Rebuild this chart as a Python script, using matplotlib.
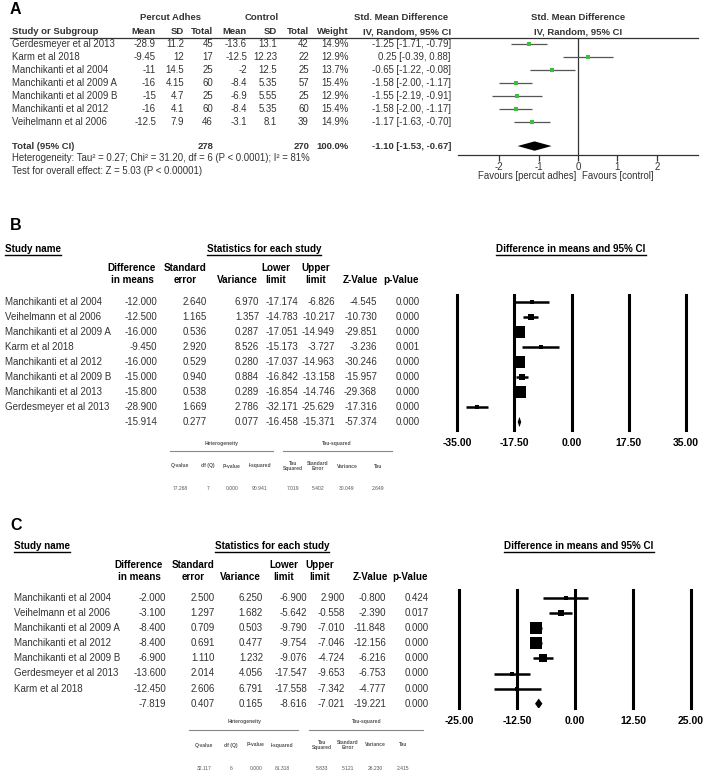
import numpy as np
import matplotlib
matplotlib.use('Agg')
import matplotlib.pyplot as plt

plt.rcParams['font.family'] = ['Liberation Sans', 'DejaVu Sans']
plt.rcParams['axes.unicode_minus'] = False

W, H = 710, 774

# panel A (RevMan style)
a_study = ['Gerdesmeyer et al 2013', 'Karm et al 2018', 'Manchikanti et al 2004',
           'Manchikanti et al 2009 A', 'Manchikanti et al 2009 B',
           'Manchikanti et al 2012', 'Veihelmann et al 2006']
a_exp_mean = [-28.9, -9.45, -11, -16, -15, -16, -12.5]
a_exp_sd = [11.2, 12, 14.5, 4.15, 4.7, 4.1, 7.9]
a_exp_n = [45, 17, 25, 60, 25, 60, 46]
a_ctl_mean = [-13.6, -12.5, -2, -8.4, -6.9, -8.4, -3.1]
a_ctl_sd = [13.1, 12.23, 12.5, 5.35, 5.55, 5.35, 8.1]
a_ctl_n = [42, 22, 25, 57, 25, 60, 39]
a_weight = [14.9, 12.9, 13.7, 15.4, 12.9, 15.4, 14.9]
a_smd = [-1.25, 0.25, -0.65, -1.58, -1.55, -1.58, -1.17]
a_lo = [-1.71, -0.39, -1.22, -2.00, -2.19, -2.00, -1.63]
a_hi = [-0.79, 0.88, -0.08, -1.17, -0.91, -1.17, -0.70]
a_total = [-1.10, -1.53, -0.67]
a_ticks = [-2, -1, 0, 1, 2]

# panel B (CMA style)
b_study = ['Manchikanti et al 2004', 'Veihelmann et al 2006', 'Manchikanti et al 2009 A',
           'Karm et al 2018', 'Manchikanti et al 2012', 'Manchikanti et al 2009 B',
           'Manchikanti et al 2013', 'Gerdesmeyer et al 2013']
b_diff = [-12.0, -12.5, -16.0, -9.45, -16.0, -15.0, -15.8, -28.9]
b_se = [2.640, 1.165, 0.536, 2.920, 0.529, 0.940, 0.538, 1.669]
b_var = [6.970, 1.357, 0.287, 8.526, 0.280, 0.884, 0.289, 2.786]
b_lo = [-17.174, -14.783, -17.051, -15.173, -17.037, -16.842, -16.854, -32.171]
b_hi = [-6.826, -10.217, -14.949, -3.727, -14.963, -13.158, -14.746, -25.629]
b_z = [-4.545, -10.730, -29.851, -3.236, -30.246, -15.957, -29.368, -17.316]
b_p = [0.000, 0.000, 0.000, 0.001, 0.000, 0.000, 0.000, 0.000]
b_sum = [-15.914, 0.277, 0.077, -16.458, -15.371, -57.374, 0.000]
b_het = [77.268, 7, 0.000, 90.941]
b_tau = [7.019, 5.402, 30.049, 2.649]
b_ticks = [-35, -17.5, 0, 17.5, 35]

# panel C (CMA style)
c_study = ['Manchikanti et al 2004', 'Veihelmann et al 2006', 'Manchikanti et al 2009 A',
           'Manchikanti et al 2012', 'Manchikanti et al 2009 B', 'Gerdesmeyer et al 2013',
           'Karm et al 2018']
c_diff = [-2.0, -3.1, -8.4, -8.4, -6.9, -13.6, -12.45]
c_se = [2.500, 1.297, 0.709, 0.691, 1.110, 2.014, 2.606]
c_var = [6.250, 1.682, 0.503, 0.477, 1.232, 4.056, 6.791]
c_lo = [-6.900, -5.642, -9.790, -9.754, -9.076, -17.547, -17.558]
c_hi = [2.900, -0.558, -7.010, -7.046, -4.724, -9.653, -7.342]
c_z = [-0.800, -2.390, -11.848, -12.156, -6.216, -6.753, -4.777]
c_p = [0.424, 0.017, 0.000, 0.000, 0.000, 0.000, 0.000]
c_sum = [-7.819, 0.407, 0.165, -8.616, -7.021, -19.221, 0.000]
c_het = [32.117, 6, 0.000, 81.318]
c_tau = [5.833, 5.121, 26.230, 2.415]
c_ticks = [-25, -12.5, 0, 12.5, 25]

fig = plt.figure(figsize=(W / 100, H / 100), dpi=100)
bg = fig.add_axes([0, 0, 1, 1])
bg.set_xlim(0, W)
bg.set_ylim(H, 0)
bg.axis('off')

GREY = '#333333'
DARK = '#1a1a1a'


def txt(x, y, s, ha='left', size=7, bold=False, color=DARK, **kw):
    return bg.text(x, y, s, ha=ha, va='center', fontsize=size,
                   fontweight='bold' if bold else 'normal', color=color, **kw)


def box(x0, y0, x1, y1):
    return fig.add_axes([x0 / W, 1 - y1 / H, (x1 - x0) / W, (y1 - y0) / H])


underlined = []


def fmt3(v):
    return '%.3f' % v


# ---------------- A ----------------
txt(10, 9, 'A', size=11.5, bold=True, color='k')
hs = 6.8
txt(170, 18, 'Percut Adhes', ha='center', size=hs, bold=True, color=GREY)
txt(262, 18, 'Control', ha='center', size=hs, bold=True, color=GREY)
txt(401, 18, 'Std. Mean Difference', ha='center', size=hs, bold=True, color=GREY)
txt(578, 18, 'Std. Mean Difference', ha='center', size=hs, bold=True, color=GREY)
txt(12, 32, 'Study or Subgroup', size=hs, bold=True, color=GREY)
for x, s in [(156, 'Mean'), (184, 'SD'), (213, 'Total'), (247, 'Mean'),
             (277, 'SD'), (309, 'Total'), (349, 'Weight'), (451, 'IV, Random, 95% CI')]:
    txt(x, 32, s, ha='right', size=hs, bold=True, color=GREY)
txt(578, 32, 'IV, Random, 95% CI', ha='center', size=hs, bold=True, color=GREY)
bg.plot([10, 698], [38, 38], color=GREY, lw=0.9)

a_y0, a_step = 44, 13.0
a_tot_row = 7.85
for i in range(len(a_study)):
    y = a_y0 + i * a_step
    txt(12, y, a_study[i], size=6.9, color=GREY)
    txt(156, y, '%g' % a_exp_mean[i], ha='right', size=6.9, color=GREY)
    txt(184, y, '%g' % a_exp_sd[i], ha='right', size=6.9, color=GREY)
    txt(213, y, '%d' % a_exp_n[i], ha='right', size=6.9, color=GREY)
    txt(247, y, '%g' % a_ctl_mean[i], ha='right', size=6.9, color=GREY)
    txt(277, y, '%g' % a_ctl_sd[i], ha='right', size=6.9, color=GREY)
    txt(309, y, '%d' % a_ctl_n[i], ha='right', size=6.9, color=GREY)
    txt(349, y, '%.1f%%' % a_weight[i], ha='right', size=6.9, color=GREY)
    txt(451, y, '%.2f [%.2f, %.2f]' % (a_smd[i], a_lo[i], a_hi[i]), ha='right',
        size=6.9, color=GREY)
yt = a_y0 + a_tot_row * a_step
txt(12, yt, 'Total (95% CI)', size=hs, bold=True, color=GREY)
txt(213, yt, '%d' % sum(a_exp_n), ha='right', size=hs, bold=True, color=GREY)
txt(309, yt, '%d' % sum(a_ctl_n), ha='right', size=hs, bold=True, color=GREY)
txt(349, yt, '100.0%', ha='right', size=hs, bold=True, color=GREY)
txt(451, yt, '%.2f [%.2f, %.2f]' % tuple(a_total), ha='right', size=hs, bold=True, color=GREY)
txt(12, 158, 'Heterogeneity: Tau\u00b2 = 0.27; Chi\u00b2 = 31.20, df = 6 (P < 0.0001); I\u00b2 = 81%',
    size=6.9, color=GREY)
txt(12, 171, 'Test for overall effect: Z = 5.03 (P < 0.00001)', size=6.9, color=GREY)

fa = box(458, 38, 698, 155)
fa.patch.set_alpha(0)
fa.set_xlim(-3.04, 3.04)
fa.set_ylim((155 - a_y0) / a_step, (38 - a_y0) / a_step)
for s in ['top', 'left', 'right']:
    fa.spines[s].set_visible(False)
fa.spines['bottom'].set_color(GREY)
fa.spines['bottom'].set_linewidth(0.9)
fa.set_yticks([])
fa.set_xticks(a_ticks)
fa.tick_params(axis='x', length=4, width=0.9, color=GREY, labelsize=6.9,
               labelcolor=GREY, pad=1)
fa.axvline(0, color=GREY, lw=0.9)
rows = np.arange(len(a_study))
fa.hlines(rows, a_lo, a_hi, color='#555555', lw=0.9)
fa.plot(a_smd, rows, 's', color='#3cbf3c', ms=3.0, mew=0)
h = 0.36
fa.fill([a_total[1], a_total[0], a_total[2], a_total[0]],
        [a_tot_row, a_tot_row - h, a_tot_row, a_tot_row + h], color='k', lw=0)
txt(576, 176, 'Favours [percut adhes]', ha='right', size=6.9, color=GREY)
txt(582, 176, 'Favours [control]', ha='left', size=6.9, color=GREY)


# ---------------- B / C ----------------
def cma_panel(letter, ly, hy, xs, study, diff, se, var, lo, hi, z, p, summ,
              het, tau, ticks, fx, y0, step, mini):
    txt(10, ly, letter, size=11.5, bold=True, color='k')
    hsz = 7.1
    name_x, stat_c, ci_c, hdr_c, val_r = xs
    underlined.append(txt(name_x, hy, 'Study name', size=hsz, bold=True, color='k'))
    underlined.append(txt(stat_c, hy, 'Statistics for each study', ha='center',
                          size=hsz, bold=True, color='k'))
    underlined.append(txt(ci_c, hy, 'Difference in means and 95% CI', ha='center',
                          size=hsz, bold=True, color='k'))
    r1, r2 = hy + 19, hy + 31
    txt(hdr_c[0], r1, 'Difference', ha='center', size=hsz, bold=True, color='k')
    txt(hdr_c[0], r2, 'in means', ha='center', size=hsz, bold=True, color='k')
    txt(hdr_c[1], r1, 'Standard', ha='center', size=hsz, bold=True, color='k')
    txt(hdr_c[1], r2, 'error', ha='center', size=hsz, bold=True, color='k')
    txt(hdr_c[2], r2, 'Variance', ha='center', size=hsz, bold=True, color='k')
    txt(hdr_c[3], r1, 'Lower', ha='center', size=hsz, bold=True, color='k')
    txt(hdr_c[3], r2, 'limit', ha='center', size=hsz, bold=True, color='k')
    txt(hdr_c[4], r1, 'Upper', ha='center', size=hsz, bold=True, color='k')
    txt(hdr_c[4], r2, 'limit', ha='center', size=hsz, bold=True, color='k')
    txt(hdr_c[5], r2, 'Z-Value', ha='center', size=hsz, bold=True, color='k')
    txt(hdr_c[6], r2, 'p-Value', ha='center', size=hsz, bold=True, color='k')

    n = len(study)
    for i in range(n):
        y = y0 + i * step
        txt(name_x, y, study[i], size=7, color=GREY)
        for x, v in zip(val_r, [diff[i], se[i], var[i], lo[i], hi[i], z[i], p[i]]):
            txt(x, y, fmt3(v), ha='right', size=7, color=GREY)
    ys = y0 + n * step
    for x, v in zip(val_r, summ):
        txt(x, ys, fmt3(v), ha='right', size=7, color=GREY)

    # forest
    fx0, fx1, fy0, fy1 = fx
    ax = box(fx0, fy0, fx1, fy1)
    ax.patch.set_alpha(0)
    ax.set_xlim(ticks[0], ticks[-1])
    ax.set_ylim((fy1 - y0) / step, (fy0 - y0) / step)
    for s in ax.spines.values():
        s.set_visible(False)
    ax.set_yticks([])
    ax.set_xticks(ticks)
    ax.set_xticklabels(['%.2f' % t for t in ticks], fontweight='bold', fontsize=7.5)
    ax.tick_params(axis='x', length=0, pad=6)
    for t in ticks:
        ax.axvline(t, color='k', lw=2.2, clip_on=False)
    rows = np.arange(n)
    ax.hlines(rows, lo, hi, color='k', lw=1.8)
    v = np.asarray(var)
    side = np.maximum(4.0, 12.0 * np.sqrt(v.min() / v))
    for r, d, sd in zip(rows, diff, side):
        ax.plot(d, r, 's', color='k', ms=sd * 0.72, mew=0)
    h = 0.34
    ax.fill([summ[3], summ[0], summ[4], summ[0]], [n, n - h, n, n + h], color='k', lw=0)

    # heterogeneity mini table
    my, hx, hl, tx, tl, cx = mini
    ms = 3.6
    mc = '#555555'
    txt(hx, my, 'Heterogeneity', ha='center', size=ms, bold=True, color=mc)
    txt(tx, my, 'Tau-squared', ha='center', size=ms, bold=True, color=mc)
    bg.plot(hl, [my + 8, my + 8], color='#888888', lw=0.8)
    bg.plot(tl, [my + 8, my + 8], color='#888888', lw=0.8)
    labels = ['Q-value', 'df (Q)', 'P-value', 'I-squared', 'Tau\nSquared',
              'Standard\nError', 'Variance', 'Tau']
    vals = [fmt3(het[0]), '%d' % het[1], fmt3(het[2]), fmt3(het[3])] + [fmt3(t) for t in tau]
    for x, lab, val in zip(cx, labels, vals):
        bg.text(x, my + 23, lab, ha='center', va='center', fontsize=ms,
                fontweight='bold', color=mc, linespacing=1.0)
        txt(x, my + 46, val, ha='center', size=ms, color=mc)


cma_panel('B', 226, 249,
          (5, 264, 571, [132, 185, 237, 276, 316, 360, 401],
           [157, 207, 259, 298, 335, 377, 420]),
          b_study, b_diff, b_se, b_var, b_lo, b_hi, b_z, b_p, b_sum, b_het, b_tau,
          b_ticks, (457, 686, 295, 430), 302, 15.0,
          (443, 222, [170, 273], 337, [283, 392],
           [180, 208, 232, 260, 293, 318, 347, 378]))

cma_panel('C', 526, 546,
          (14, 272, 579, [139, 193, 240, 284, 320, 370, 410],
           [166, 215, 263, 307, 345, 386, 429]),
          c_study, c_diff, c_se, c_var, c_lo, c_hi, c_z, c_p, c_sum, c_het, c_tau,
          c_ticks, (459, 691, 590, 708), 598, 15.1,
          (722, 245, [189, 298], 367, [309, 423],
           [204, 231, 256, 282, 322, 348, 375, 403]))

# underline the CMA section headers
r = fig.canvas.get_renderer()
inv = bg.transData.inverted()
for t in underlined:
    bb = t.get_window_extent(renderer=r)
    (x0, y0), (x1, y1) = inv.transform([[bb.x0, bb.y0], [bb.x1, bb.y1]])
    yl = max(y0, y1) + 0.5
    bg.plot([x0, x1], [yl, yl], color='k', lw=1.0)

fig.savefig('out.png', dpi=100)
